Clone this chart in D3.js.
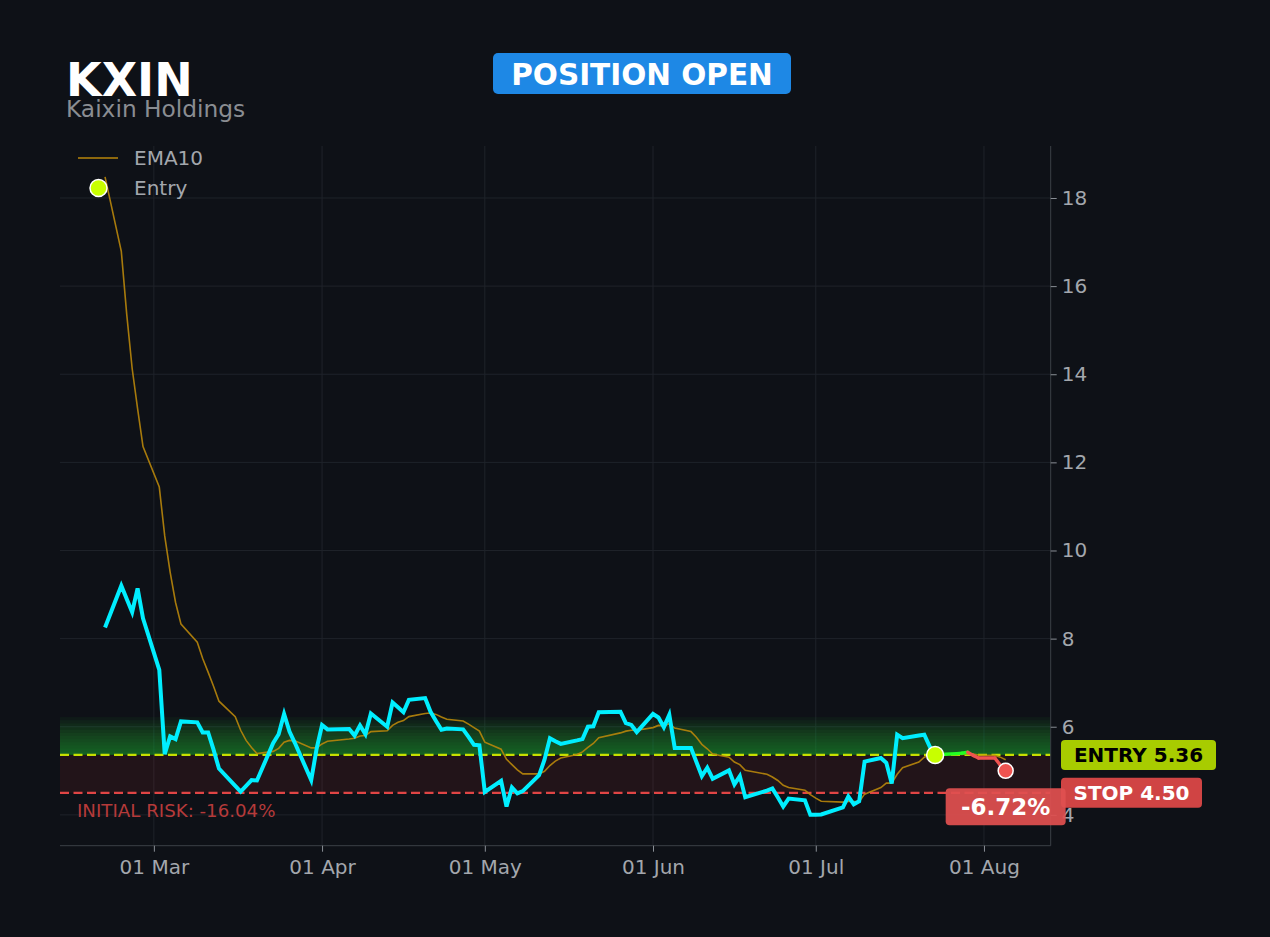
<!DOCTYPE html>
<html><head><meta charset="utf-8">
<script src="https://cdn.jsdelivr.net/npm/d3@7"></script>
<style>
html,body{margin:0;padding:0;background:#0e1117;}
svg{display:block;font-family:"DejaVu Sans",sans-serif;}
</style>
</head><body>
<svg id="c" width="1270" height="937"></svg>
<script>
// ---------- DATA ----------
const ticker = "KXIN";
const companyName = "Kaixin Holdings";
const statusText = "POSITION OPEN";
const entryDate = "2026-07-23";
const entryPrice = 5.36;
const stopPrice = 4.50;
const yTicks = [4, 6, 8, 10, 12, 14, 16, 18];

const dates = [
"2026-02-20","2026-02-23","2026-02-24","2026-02-25","2026-02-26","2026-02-27",
"2026-03-02","2026-03-03","2026-03-04","2026-03-05","2026-03-06",
"2026-03-09","2026-03-10","2026-03-11","2026-03-12","2026-03-13",
"2026-03-16","2026-03-17","2026-03-18","2026-03-19","2026-03-20",
"2026-03-23","2026-03-24","2026-03-25","2026-03-26","2026-03-27",
"2026-03-30","2026-03-31","2026-04-01","2026-04-02",
"2026-04-06","2026-04-07","2026-04-08","2026-04-09","2026-04-10",
"2026-04-13","2026-04-14","2026-04-15","2026-04-16","2026-04-17",
"2026-04-20","2026-04-21","2026-04-22","2026-04-23","2026-04-24",
"2026-04-27","2026-04-28","2026-04-29","2026-04-30","2026-05-01",
"2026-05-04","2026-05-05","2026-05-06","2026-05-07","2026-05-08",
"2026-05-11","2026-05-12","2026-05-13","2026-05-14","2026-05-15",
"2026-05-18","2026-05-19","2026-05-20","2026-05-21","2026-05-22",
"2026-05-26","2026-05-27","2026-05-28","2026-05-29",
"2026-06-01","2026-06-02","2026-06-03","2026-06-04","2026-06-05",
"2026-06-08","2026-06-09","2026-06-10","2026-06-11","2026-06-12",
"2026-06-15","2026-06-16","2026-06-17","2026-06-18",
"2026-06-22","2026-06-23","2026-06-24","2026-06-25","2026-06-26",
"2026-06-29","2026-06-30","2026-07-01","2026-07-02",
"2026-07-06","2026-07-07","2026-07-08","2026-07-09","2026-07-10",
"2026-07-13","2026-07-14","2026-07-15","2026-07-16","2026-07-17",
"2026-07-20","2026-07-21","2026-07-22","2026-07-23","2026-07-24",
"2026-07-27","2026-07-28","2026-07-29","2026-07-30","2026-07-31",
"2026-08-03","2026-08-04","2026-08-05"
];

const closePrices = [
8.25, 9.20, 8.90, 8.60, 9.14, 8.46,
7.29, 5.38, 5.78, 5.72, 6.12,
6.10, 5.87, 5.87, 5.48, 5.05,
4.66, 4.53, 4.66, 4.79, 4.78,
5.63, 5.83, 6.29, 5.89, 5.63,
4.79, 5.50, 6.04, 5.94,
5.95, 5.80, 6.03, 5.83, 6.30,
6.00, 6.55, 6.44, 6.33, 6.61,
6.65, 6.34, 6.13, 5.93, 5.96,
5.94, 5.77, 5.59, 5.58, 4.52,
4.77, 4.19, 4.62, 4.49, 4.54,
4.90, 5.25, 5.74, 5.67, 5.61,
5.69, 5.72, 6.00, 6.01, 6.33,
6.34, 6.08, 6.04, 5.88,
6.29, 6.21, 5.99, 6.27, 5.52,
5.52, 5.20, 4.88, 5.07, 4.82,
5.01, 4.69, 4.88, 4.40,
4.55, 4.60, 4.40, 4.19, 4.37,
4.33, 4.00, 4.00, 4.01,
4.17, 4.42, 4.24, 4.31, 5.21,
5.29, 5.18, 4.71, 5.82, 5.74,
5.80, 5.82, 5.55, 5.36, 5.37,
5.39, 5.40, 5.42, 5.35, 5.29,
5.29, 5.13, 5.00
];

const ema10 = [
18.48, 16.79, 15.36, 14.13, 13.22, 12.36,
11.44, 10.33, 9.51, 8.82, 8.33,
7.92, 7.55, 7.24, 6.92, 6.58,
6.23, 5.92, 5.69, 5.53, 5.39,
5.44, 5.51, 5.65, 5.69, 5.68,
5.52, 5.52, 5.61, 5.67,
5.72, 5.74, 5.79, 5.80, 5.89,
5.91, 6.03, 6.10, 6.14, 6.23,
6.30, 6.31, 6.28, 6.22, 6.17,
6.13, 6.06, 5.98, 5.90, 5.65,
5.49, 5.26, 5.14, 5.02, 4.93,
4.93, 4.99, 5.12, 5.22, 5.29,
5.37, 5.43, 5.53, 5.62, 5.75,
5.86, 5.90, 5.92, 5.92,
5.98, 6.03, 6.02, 6.07, 5.97,
5.89, 5.76, 5.60, 5.50, 5.38,
5.31, 5.20, 5.14, 5.01,
4.92, 4.86, 4.78, 4.67, 4.62,
4.56, 4.46, 4.38, 4.31,
4.29, 4.31, 4.30, 4.30, 4.47,
4.62, 4.72, 4.72, 4.92, 5.07,
5.20, 5.31, 5.36, 5.36, 5.36,
5.37, 5.37, 5.38, 5.38, 5.36,
5.35, 5.31, 5.25
];

// ---------- SETUP ----------
const parse = d3.utcParse("%Y-%m-%d");
const rows = dates.map((d, i) => ({ t: parse(d), c: closePrices[i], e: ema10[i] }));
const entryIdx = dates.indexOf(entryDate);
const last = rows[rows.length - 1];

const L = 60, R = 1050.7, T = 146, B = 845.7;
const svg = d3.select("#c");
svg.append("rect").attr("width", 1270).attr("height", 937).attr("fill", "#0e1117");

const t0 = rows[0].t, t1 = last.t;
const pad = (t1 - t0) * 0.05;
const x = d3.scaleUtc().domain([new Date(+t0 - pad), new Date(+t1 + pad)]).range([L, R]);
const y = d3.scaleLinear().domain([3.30, 19.18]).range([B, T]);
const months = d3.utcMonth.range(x.domain()[0], x.domain()[1]);

svg.append("clipPath").attr("id", "plot").append("rect")
  .attr("x", L).attr("y", T).attr("width", R - L).attr("height", B - T);
const g = svg.append("g").attr("clip-path", "url(#plot)");

// grid
g.selectAll(".vg").data(months).join("line")
  .attr("x1", d => x(d)).attr("x2", d => x(d)).attr("y1", T).attr("y2", B)
  .attr("stroke", "#1f232a").attr("stroke-width", 1);
g.selectAll(".hg").data(yTicks).join("line")
  .attr("x1", L).attr("x2", R).attr("y1", d => y(d)).attr("y2", d => y(d))
  .attr("stroke", "#1f232a").attr("stroke-width", 1);

// risk zone
g.append("rect").attr("x", L).attr("width", R - L)
  .attr("y", y(entryPrice)).attr("height", y(stopPrice) - y(entryPrice))
  .attr("fill", "#dc3232").attr("opacity", 0.1);

// target gradient zone (1R above entry), stacked layers
const risk = entryPrice - stopPrice;
const layers = d3.range(1, 13);
g.selectAll(".gz").data(layers).join("rect")
  .attr("x", L).attr("width", R - L)
  .attr("y", k => y(entryPrice + risk * k / 12))
  .attr("height", k => y(entryPrice) - y(entryPrice + risk * k / 12))
  .attr("fill", "#2ecc40").attr("opacity", 0.05);

// entry & stop lines
g.append("line").attr("x1", L).attr("x2", R).attr("y1", y(entryPrice)).attr("y2", y(entryPrice))
  .attr("stroke", "#c6e000").attr("stroke-width", 2.2).attr("stroke-dasharray", "9,4.5");
g.append("line").attr("x1", L).attr("x2", R).attr("y1", y(stopPrice)).attr("y2", y(stopPrice))
  .attr("stroke", "#e04545").attr("stroke-width", 2.2).attr("stroke-dasharray", "9,4.5");

// EMA
const lineE = d3.line().x(d => x(d.t)).y(d => y(d.e));
g.append("path").datum(rows).attr("d", lineE).attr("fill", "none")
  .attr("stroke", "#b8860b").attr("stroke-width", 1.6).attr("opacity", 0.9);

// price (pre-entry)
const lineC = d3.line().x(d => x(d.t)).y(d => y(d.c));
g.append("path").datum(rows.slice(0, entryIdx + 1)).attr("d", lineC).attr("fill", "none")
  .attr("stroke", "#00eeff").attr("stroke-width", 4).attr("stroke-linejoin", "miter");

// trade segments
const trade = rows.slice(entryIdx);
const segs = d3.pairs(trade);
g.selectAll(".seg").data(segs).join("line")
  .attr("x1", d => x(d[0].t)).attr("y1", d => y(d[0].c))
  .attr("x2", d => x(d[1].t)).attr("y2", d => y(d[1].c))
  .attr("stroke", d => d[1].c >= entryPrice ? "#22ff22" : "#ef5350")
  .attr("stroke-width", 3.4).attr("stroke-linecap", "round");

// markers
svg.append("circle").attr("cx", x(rows[entryIdx].t)).attr("cy", y(entryPrice)).attr("r", 8.5)
  .attr("fill", "#c8ff00").attr("stroke", "#ffffff").attr("stroke-width", 1.5);
svg.append("circle").attr("cx", x(last.t)).attr("cy", y(last.c)).attr("r", 7.5)
  .attr("fill", "#ef5350").attr("stroke", "#ffffff").attr("stroke-width", 1.5);

// spines
svg.append("line").attr("x1", R).attr("x2", R).attr("y1", T).attr("y2", B).attr("stroke", "#3c4047");
svg.append("line").attr("x1", L).attr("x2", R).attr("y1", B).attr("y2", B).attr("stroke", "#3c4047");

// axes
const fmt = d3.utcFormat("%d %b");
const ax = svg.append("g").attr("transform", `translate(0,${B})`)
  .call(d3.axisBottom(x).tickValues(months).tickFormat(fmt).tickSize(6).tickPadding(8.5));
const ay = svg.append("g").attr("transform", `translate(${R},0)`)
  .call(d3.axisRight(y).tickValues(yTicks).tickFormat(d3.format("d")).tickSize(6).tickPadding(5));
[ax, ay].forEach(a => {
  a.select(".domain").remove();
  a.selectAll(".tick line").attr("stroke", "#8a8f96");
  a.selectAll(".tick text").attr("fill", "#a3a7ad").style("font-size", "20px")
    .style("font-family", "DejaVu Sans");
});

// titles
svg.append("text").attr("x", 66).attr("y", 96).text(ticker)
  .attr("fill", "#ffffff").style("font-size", "46px").style("font-weight", "bold");
svg.append("text").attr("x", 66).attr("y", 117).text(companyName)
  .attr("fill", "#8a8d92").style("font-size", "23.3px");
svg.append("rect").attr("x", 493).attr("y", 53).attr("width", 298).attr("height", 41).attr("rx", 5)
  .attr("fill", "#1e88e5");
svg.append("text").attr("x", 642).attr("y", 84.5).attr("text-anchor", "middle").text(statusText)
  .attr("fill", "#ffffff").style("font-size", "29.5px").style("font-weight", "bold");

// legend
svg.append("line").attr("x1", 78).attr("x2", 118).attr("y1", 158).attr("y2", 158)
  .attr("stroke", "#b8860b").attr("stroke-width", 1.6);
svg.append("text").attr("x", 134).attr("y", 165).text("EMA10").attr("fill", "#a3a7ad").style("font-size", "20px");
svg.append("circle").attr("cx", 98.5).attr("cy", 188).attr("r", 8.5)
  .attr("fill", "#c8ff00").attr("stroke", "#ffffff").attr("stroke-width", 1.5);
svg.append("text").attr("x", 134).attr("y", 195).text("Entry").attr("fill", "#a3a7ad").style("font-size", "20px");

// risk text
const riskPct = (stopPrice - entryPrice) / entryPrice * 100;
svg.append("text").attr("x", 77).attr("y", 816.5).text(`INITIAL RISK: ${riskPct.toFixed(2)}%`)
  .attr("fill", "#b53a3a").style("font-size", "18.2px");

// right labels
function badge(xl, yc, w, h, fill, txt, tfill, size, op) {
  svg.append("rect").attr("x", xl).attr("y", yc - h / 2).attr("width", w).attr("height", h)
    .attr("rx", 4).attr("fill", fill).attr("opacity", op || 1);
  svg.append("text").attr("x", xl + w / 2).attr("y", yc).attr("dy", "0.36em")
    .attr("text-anchor", "middle").text(txt).attr("fill", tfill)
    .style("font-size", size + "px").style("font-weight", "bold");
}
badge(1061, y(entryPrice), 155, 30, "#a8cc00", `ENTRY ${entryPrice.toFixed(2)}`, "#000000", 20);
badge(1061, y(stopPrice), 141, 30, "#d04444", `STOP ${stopPrice.toFixed(2)}`, "#ffffff", 20);
const pnl = (last.c - entryPrice) / entryPrice * 100;
badge(x(last.t) - 60, y(last.c) + 36, 120, 37, "#e05050", `${pnl.toFixed(2)}%`, "#ffffff", 23, 0.93);
</script>
</body></html>
